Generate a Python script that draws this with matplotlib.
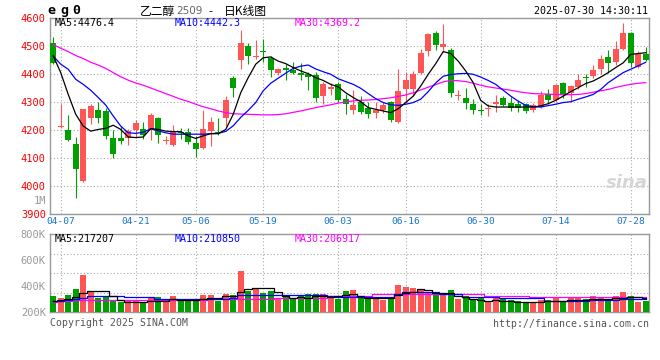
import matplotlib
matplotlib.use("Agg")
import matplotlib.pyplot as plt
import numpy as np
import pandas as pd

W, H = 660, 360

MONO = "DejaVu Sans Mono"
CJK = ["Noto Sans CJK SC", "DejaVu Sans"]

COL_UP = "#ff5555"
COL_DOWN = "#00a000"
COL_GRID = "#aaaaaa"
COL_FRAME = "#999999"
COL_MA5 = "#000000"
COL_MA10 = "#0000ff"
COL_MA30 = "#ff00ff"
COL_TICK_Y = "#ff0000"
COL_TICK_X = "#1874cd"

# trading days: 2025-04-03 .. 2025-07-30, exchange holidays removed
HOLIDAYS = ["2025-04-04", "2025-05-01", "2025-05-02", "2025-05-05", "2025-06-02"]
TICK_DATES = ["04-07", "04-21", "05-06", "05-19", "06-03", "06-16", "06-30", "07-14", "07-28"]

OPEN = [4512, 4210, 4200, 4151, 4018, 4242, 4270, 4268, 4173, 4170,
        4173, 4200, 4204, 4204, 4242, 4162, 4146, 4191, 4194, 4152,
        4135, 4197, 4193, 4242, 4385, 4450, 4500, 4460, 4480, 4458,
        4402, 4423, 4413, 4405, 4401, 4395, 4321, 4345, 4363, 4312,
        4270, 4301, 4280, 4260, 4272, 4301, 4229, 4345, 4345, 4405,
        4482, 4545, 4496, 4485, 4322, 4316, 4294, 4271, 4275, 4294,
        4313, 4295, 4292, 4292, 4272, 4282, 4327, 4306, 4369, 4331,
        4354, 4386, 4393, 4417, 4462, 4443, 4488, 4548, 4426, 4470]
HIGH = [4532, 4294, 4252, 4176, 4276, 4294, 4300, 4277, 4199, 4214,
        4203, 4235, 4229, 4260, 4245, 4180, 4217, 4208, 4206, 4179,
        4270, 4247, 4242, 4322, 4392, 4556, 4510, 4520, 4524, 4464,
        4423, 4435, 4443, 4440, 4408, 4408, 4373, 4369, 4370, 4327,
        4342, 4320, 4301, 4300, 4301, 4302, 4417, 4406, 4411, 4488,
        4545, 4554, 4577, 4494, 4342, 4349, 4310, 4292, 4292, 4325,
        4321, 4318, 4306, 4298, 4298, 4339, 4345, 4363, 4370, 4361,
        4399, 4401, 4431, 4467, 4485, 4518, 4583, 4549, 4482, 4496]
LOW = [4435, 4208, 4161, 3957, 4016, 4220, 4226, 4167, 4101, 4149,
       4147, 4173, 4167, 4163, 4155, 4150, 4144, 4167, 4151, 4104,
       4131, 4143, 4182, 4214, 4318, 4419, 4437, 4455, 4443, 4390,
       4395, 4377, 4399, 4379, 4342, 4301, 4294, 4325, 4301, 4256,
       4256, 4256, 4242, 4244, 4260, 4229, 4226, 4299, 4321, 4399,
       4464, 4486, 4480, 4318, 4306, 4274, 4256, 4252, 4250, 4266,
       4286, 4268, 4264, 4262, 4264, 4280, 4294, 4301, 4316, 4301,
       4345, 4354, 4387, 4399, 4405, 4431, 4487, 4425, 4423, 4446]
CLOSE = [4440, 4212, 4163, 4061, 4274, 4285, 4242, 4179, 4116, 4161,
         4197, 4225, 4181, 4252, 4182, 4164, 4195, 4189, 4156, 4132,
         4202, 4229, 4188, 4306, 4349, 4510, 4464, 4463, 4478, 4414,
         4417, 4414, 4402, 4396, 4389, 4316, 4363, 4354, 4307, 4294,
         4288, 4264, 4256, 4272, 4288, 4235, 4339, 4378, 4401, 4474,
         4542, 4502, 4506, 4332, 4325, 4297, 4270, 4269, 4277, 4301,
         4288, 4280, 4280, 4268, 4289, 4324, 4307, 4360, 4324, 4357,
         4377, 4384, 4413, 4452, 4438, 4488, 4548, 4438, 4470, 4450]

MA5 = [4465, 4405, 4327, 4256, 4214, 4196, 4202, 4206, 4217, 4202,
       4175, 4173, 4175, 4205, 4202, 4196, 4194, 4194, 4179, 4170,
       4179, 4187, 4187, 4202, 4256, 4333, 4387, 4435, 4458, 4461,
       4446, 4437, 4423, 4411, 4401, 4387, 4377, 4363, 4354, 4333,
       4316, 4301, 4280, 4274, 4268, 4262, 4276, 4298, 4321, 4357,
       4399, 4437, 4480, 4473, 4446, 4411, 4369, 4306, 4286, 4282,
       4282, 4282, 4282, 4282, 4282, 4286, 4294, 4306, 4321, 4337,
       4351, 4366, 4375, 4389, 4405, 4423, 4440, 4470, 4473, 4476]
MA10 = [4464, 4435, 4417, 4381, 4363, 4342, 4316, 4289, 4250, 4214,
        4190, 4188, 4192, 4204, 4197, 4190, 4185, 4185, 4185, 4185,
        4185, 4187, 4188, 4195, 4215, 4245, 4270, 4298, 4340, 4367,
        4385, 4403, 4420, 4428, 4432, 4418, 4408, 4399, 4383, 4373,
        4363, 4349, 4330, 4312, 4298, 4290, 4288, 4292, 4298, 4310,
        4337, 4368, 4392, 4398, 4401, 4402, 4399, 4389, 4377, 4363,
        4342, 4321, 4303, 4288, 4283, 4282, 4287, 4292, 4298, 4301,
        4310, 4318, 4327, 4345, 4369, 4387, 4405, 4417, 4429, 4442]
MA30 = [4505, 4492, 4480, 4466, 4455, 4442, 4432, 4420, 4405, 4390,
        4378, 4368, 4360, 4350, 4340, 4330, 4320, 4310, 4302, 4292,
        4283, 4276, 4268, 4262, 4258, 4257, 4256, 4255, 4254, 4254,
        4255, 4258, 4263, 4268, 4274, 4280, 4285, 4290, 4296, 4300,
        4304, 4306, 4307, 4309, 4312, 4315, 4320, 4325, 4333, 4343,
        4353, 4362, 4372, 4377, 4376, 4373, 4367, 4360, 4354, 4350,
        4346, 4342, 4337, 4333, 4330, 4329, 4328, 4327, 4326, 4326,
        4327, 4330, 4335, 4340, 4345, 4352, 4358, 4363, 4367, 4369]

# volume, thousands of lots
VOL = [323, 305, 331, 377, 485, 356, 310, 318, 285, 274,
       292, 292, 279, 318, 318, 292, 326, 292, 292, 292,
       331, 331, 285, 338, 331, 518, 361, 374, 349, 361,
       305, 331, 300, 331, 336, 336, 336, 326, 300, 361,
       369, 326, 310, 300, 292, 318, 408, 395, 387, 377,
       356, 331, 344, 369, 300, 326, 300, 305, 285, 318,
       305, 292, 285, 279, 274, 292, 292, 318, 285, 318,
       310, 300, 326, 305, 292, 326, 356, 326, 279, 285]
VOL_MA5 = [285, 292, 300, 318, 344, 361, 361, 361, 326, 292,
           274, 274, 274, 285, 285, 285, 300, 292, 292, 292,
           300, 310, 310, 323, 323, 356, 374, 382, 382, 387,
           356, 326, 310, 318, 305, 326, 326, 318, 323, 331,
           336, 323, 310, 310, 310, 305, 331, 344, 356, 374,
           369, 344, 349, 344, 323, 318, 300, 292, 287, 290,
           285, 285, 279, 279, 279, 279, 285, 287, 287, 290,
           292, 295, 297, 300, 300, 305, 310, 318, 318, 305]
VOL_MA10 = [285, 287, 292, 300, 310, 326, 326, 326, 326, 326,
            318, 318, 318, 318, 300, 300, 300, 300, 300, 300,
            300, 300, 300, 300, 305, 331, 331, 331, 331, 331,
            331, 331, 331, 331, 331, 331, 331, 323, 318, 318,
            318, 318, 318, 318, 318, 318, 336, 351, 351, 351,
            351, 351, 336, 336, 336, 313, 313, 313, 313, 313,
            305, 305, 305, 305, 305, 305, 285, 285, 285, 285,
            285, 285, 292, 292, 292, 292, 300, 300, 300, 300]
VOL_MA30 = [279, 283, 287, 290, 292, 292, 292, 292, 292, 292,
            292, 292, 292, 292, 292, 292, 292, 292, 292, 292,
            295, 300, 300, 300, 300, 300, 300, 300, 300, 300,
            310, 310, 310, 310, 310, 310, 310, 320, 320, 320,
            320, 320, 320, 336, 336, 336, 336, 336, 336, 336,
            336, 336, 336, 336, 336, 336, 336, 336, 326, 326,
            326, 326, 326, 326, 315, 315, 315, 315, 315, 315,
            315, 315, 315, 315, 315, 315, 315, 315, 315, 315]

PRICE_TICKS = [3900, 4000, 4100, 4200, 4300, 4400, 4500, 4600]
VOL_TICKS = [200, 400, 600, 800]
VOL_GRID = [350, 500, 650]


def fx(px):
    return px / W


def fy(py):
    return 1 - py / H


def style_axis(ax):
    for sp in ax.spines.values():
        sp.set_color(COL_FRAME)
        sp.set_linewidth(1.0)
    ax.tick_params(length=0)
    ax.set_xlim(-0.43, 79.44)


def main():
    dates = pd.bdate_range("2025-04-03", "2025-07-30").difference(pd.to_datetime(HOLIDAYS))
    day_lbl = list(dates.strftime("%m-%d"))
    tick_idx = [day_lbl.index(d) for d in TICK_DATES]

    o = np.array(OPEN)
    h = np.array(HIGH)
    lo = np.array(LOW)
    c = np.array(CLOSE)
    x = np.arange(len(o))
    up = c >= o
    colors = np.where(up, COL_UP, COL_DOWN)

    fig = plt.figure(figsize=(W / 100, H / 100), dpi=100)
    ax = fig.add_axes([fx(50), fy(214), fx(599), 196 / H])
    axv = fig.add_axes([fx(50), fy(312), fx(599), 78 / H])

    # price panel
    ax.vlines(x, lo, h, colors=colors, linewidth=0.8, zorder=3)
    body = np.maximum(np.abs(c - o), 3.5)
    ax.bar(x, body, bottom=np.minimum(o, c), width=0.76, color=colors,
           linewidth=0, zorder=4)
    ax.plot(x, MA30, color=COL_MA30, lw=0.9, zorder=5)
    ax.plot(x, MA10, color=COL_MA10, lw=0.9, zorder=5)
    ax.plot(x, MA5, color=COL_MA5, lw=0.9, zorder=5)

    style_axis(ax)
    ax.set_ylim(3900, 4600)
    ax.set_yticks(PRICE_TICKS)
    ax.set_yticklabels([str(v) for v in PRICE_TICKS], color=COL_TICK_Y,
                       fontfamily=MONO, fontsize=7.5)
    ax.set_xticks(tick_idx)
    ax.set_xticklabels(TICK_DATES, color=COL_TICK_X, fontfamily=MONO, fontsize=6.8)
    ax.tick_params(axis="y", pad=3)
    ax.tick_params(axis="x", pad=2.5)
    ax.grid(True, color=COL_GRID, linestyle=(0, (1, 2)), linewidth=0.8)
    ax.set_axisbelow(True)

    # volume panel
    axv.bar(x, VOL, width=0.76, color=colors, linewidth=0, zorder=3)
    axv.plot(x, VOL_MA30, color=COL_MA30, lw=0.9, drawstyle="steps-mid", zorder=4)
    axv.plot(x, VOL_MA10, color=COL_MA10, lw=0.9, drawstyle="steps-mid", zorder=4)
    axv.plot(x, VOL_MA5, color=COL_MA5, lw=0.9, drawstyle="steps-mid", zorder=4)
    style_axis(axv)
    axv.set_ylim(200, 800)
    axv.set_yticks(VOL_TICKS)
    axv.set_yticklabels([f"{v}K" for v in VOL_TICKS], color="#9a9a9a",
                        fontfamily=MONO, fontsize=7.5)
    axv.set_yticks(VOL_GRID, minor=True)
    axv.tick_params(axis="y", which="both", length=0, pad=3)
    axv.set_xticks(tick_idx)
    axv.set_xticklabels([])
    axv.grid(True, axis="x", color=COL_GRID, linestyle=(0, (1, 2)), linewidth=0.8)
    axv.grid(True, axis="y", which="minor", color=COL_GRID, linestyle=(0, (1, 2)),
             linewidth=0.8)
    axv.grid(False, axis="y", which="major")
    axv.set_axisbelow(True)

    # header
    for ch, px in zip("eg0", [51.7, 64.7, 76.7]):
        fig.text(fx(px), fy(14), ch, ha="center", va="baseline", fontfamily=MONO,
                 fontweight="bold", fontsize=9.5, color="black")
    fig.text(fx(140), fy(11.5), "乙二醇", ha="left", va="center", family=CJK,
             fontsize=8.5, color="black")
    fig.text(fx(176), fy(11.5), "2509", ha="left", va="center", fontsize=7.5,
             color="#666666")
    fig.text(fx(210), fy(11.5), "-", ha="center", va="center", fontsize=8,
             color="black")
    fig.text(fx(224), fy(11.5), "日K线图", ha="left", va="center", family=CJK,
             fontsize=8.5, color="black")
    fig.text(fx(648), fy(11.5), "2025-07-30 14:30:11", ha="right", va="center",
             fontfamily=MONO, fontsize=7.2, color="black")

    # MA captions
    for txt, px, col in [("MA5:4476.4", 54.3, COL_MA5), ("MA10:4442.3", 174.3, COL_MA10),
                         ("MA30:4369.2", 295, COL_MA30)]:
        fig.text(fx(px), fy(23.5), txt, ha="left", va="center", fontfamily=MONO,
                 fontsize=7.2, color=col)
    for txt, px, col in [("MA5:217207", 54.3, COL_MA5), ("MA10:210850", 174.3, COL_MA10),
                         ("MA30:206917", 295, COL_MA30)]:
        fig.text(fx(px), fy(238.5), txt, ha="left", va="center", fontfamily=MONO,
                 fontsize=7.2, color=col)

    fig.text(fx(46.5), fy(201), "1M", ha="right", va="center", fontfamily=MONO,
             fontsize=7.5, color="#9a9a9a")

    # watermark + footer
    fig.text(fx(648), fy(183), "sina", ha="right", va="center", fontsize=13,
             fontstyle="italic", fontweight="bold", color="#d6d6d6")
    fig.text(fx(50), fy(323.5), "Copyright 2025 SINA.COM", ha="left", va="center",
             fontfamily=MONO, fontsize=7.1, color="#555555")
    fig.text(fx(649), fy(324), "http://finance.sina.com.cn", ha="right", va="center",
             fontfamily=MONO, fontsize=7.1, color="#555555")

    fig.savefig("out.png", dpi=100)
    plt.close(fig)


if __name__ == "__main__":
    main()
